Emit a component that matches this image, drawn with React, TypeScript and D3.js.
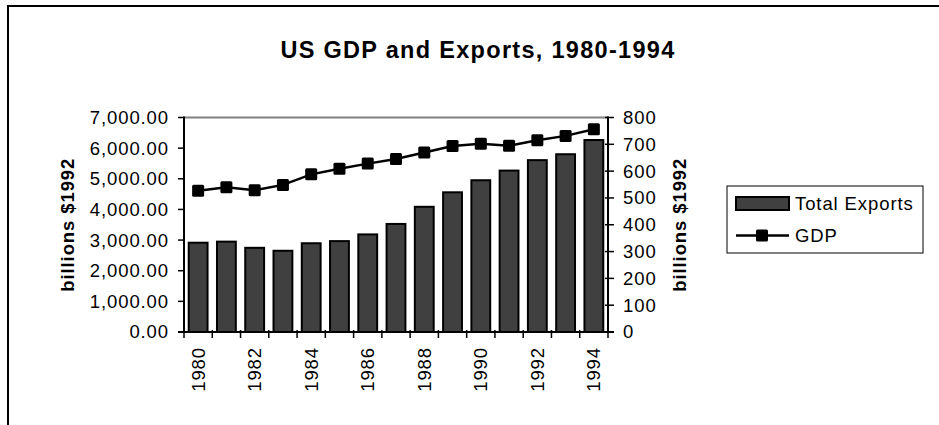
import React from 'react';
import * as d3 from 'd3';

const years = [1980, 1981, 1982, 1983, 1984, 1985, 1986, 1987, 1988, 1989, 1990, 1991, 1992, 1993, 1994];
const totalExports = [333, 337, 314, 303, 331, 339, 364, 403, 467, 521, 566, 602, 641, 663, 716];
const gdp = [4610, 4722, 4624, 4800, 5145, 5330, 5495, 5645, 5858, 6070, 6145, 6080, 6255, 6400, 6615];
const leftTicks = [0, 1000, 2000, 3000, 4000, 5000, 6000, 7000];
const rightTicks = [0, 100, 200, 300, 400, 500, 600, 700, 800];
const xLabelYears = [1980, 1982, 1984, 1986, 1988, 1990, 1992, 1994];
const title = 'US GDP and Exports, 1980-1994';
const axisTitle = 'billions $1992';
const seriesNames = ['Total Exports', 'GDP'];

const FONT = '"Liberation Sans", Arial, sans-serif';

export default function App() {
  const left = 184, right = 608, top = 117.5, bottom = 332;
  const x = d3.scaleBand<number>().domain(years).range([left, right]).paddingInner(1 / 3).paddingOuter(1 / 6);
  const step = (right - left) / years.length;
  const yL = d3.scaleLinear().domain([0, 7000]).range([bottom, top]);
  const yR = d3.scaleLinear().domain([0, 800]).range([bottom, top]);
  const fmtL = d3.format(',.2f');
  const line = d3.line<number>().x((_, i) => (x(years[i]) as number) + x.bandwidth() / 2).y((d) => yL(d));
  const ms = 12;
  const textStyle = { fontFamily: FONT, fontSize: 18.5, letterSpacing: 0.9 } as React.CSSProperties;

  return (
    <svg width={939} height={425} style={{ position: 'absolute', left: 0, top: 0, background: '#fff' }}>
      <rect x={0} y={0} width={939} height={425} fill="#fff" />
      <rect x={8} y={6} width={960} height={440} fill="none" stroke="#000" strokeWidth={2} />
      <text x={478} y={58} textAnchor="middle" style={{ fontFamily: FONT, fontSize: 23.5, fontWeight: 'bold', letterSpacing: 1.3 }}>{title}</text>

      {/* plot top border */}
      <line x1={left} x2={right} y1={top} y2={top} stroke="#808080" strokeWidth={2} />

      {/* bars */}
      {years.map((yr, i) => (
        <rect key={yr} x={x(yr)} y={yR(totalExports[i])} width={x.bandwidth()} height={bottom - yR(totalExports[i])}
          fill="#404040" stroke="#000" strokeWidth={2} />
      ))}

      {/* GDP line */}
      <path d={line(gdp) || ''} fill="none" stroke="#000" strokeWidth={2.5} />
      {years.map((yr, i) => (
        <rect key={'m' + yr} x={(x(yr) as number) + x.bandwidth() / 2 - ms / 2} y={yL(gdp[i]) - ms / 2} width={ms} height={ms} rx={1.5} fill="#000" />
      ))}

      {/* left axis */}
      <line x1={left} x2={left} y1={top - 1} y2={bottom + 1} stroke="#000" strokeWidth={2} />
      {leftTicks.map((t) => (
        <g key={'l' + t}>
          <line x1={left - 6} x2={left} y1={yL(t)} y2={yL(t)} stroke="#000" strokeWidth={1.5} />
          <text x={169} y={yL(t)} dy="0.35em" textAnchor="end" style={textStyle}>{fmtL(t)}</text>
        </g>
      ))}
      <text transform={`translate(74,${(top + bottom) / 2}) rotate(-90)`} textAnchor="middle"
        style={{ ...textStyle, fontWeight: 'bold' }}>{axisTitle}</text>

      {/* right axis */}
      <line x1={right} x2={right} y1={top - 1} y2={bottom + 1} stroke="#000" strokeWidth={2} />
      {rightTicks.map((t) => (
        <g key={'r' + t}>
          <line x1={right - 3} x2={right + 6} y1={yR(t)} y2={yR(t)} stroke="#000" strokeWidth={1.5} />
          <text x={623} y={yR(t)} dy="0.35em" textAnchor="start" style={textStyle}>{t}</text>
        </g>
      ))}
      <text transform={`translate(686,${(top + bottom) / 2}) rotate(-90)`} textAnchor="middle"
        style={{ ...textStyle, fontWeight: 'bold' }}>{axisTitle}</text>

      {/* x axis */}
      <line x1={left - 6} x2={right + 6} y1={bottom} y2={bottom} stroke="#000" strokeWidth={2} />
      {d3.range(years.length + 1).map((k) => (
        <line key={'xt' + k} x1={left + k * step} x2={left + k * step} y1={bottom - 2} y2={bottom + 6} stroke="#000" strokeWidth={1.5} />
      ))}
      {xLabelYears.map((yr) => (
        <text key={'xl' + yr} transform={`translate(${(x(yr) as number) + x.bandwidth() / 2},347) rotate(-90)`}
          dy="0.35em" textAnchor="end" style={textStyle}>{yr}</text>
      ))}

      {/* legend */}
      <rect x={727} y={186} width={196} height={67} fill="#fff" stroke="#000" strokeWidth={1} />
      <rect x={736} y={197} width={53} height={13} fill="#404040" stroke="#000" strokeWidth={2} />
      <text x={795} y={203.5} dy="0.35em" style={textStyle}>{seriesNames[0]}</text>
      <line x1={736} x2={789} y1={235.5} y2={235.5} stroke="#000" strokeWidth={2.5} />
      <rect x={762 - ms / 2} y={235.5 - ms / 2} width={ms} height={ms} rx={1.5} fill="#000" />
      <text x={795} y={235.5} dy="0.35em" style={textStyle}>{seriesNames[1]}</text>
    </svg>
  );
}
